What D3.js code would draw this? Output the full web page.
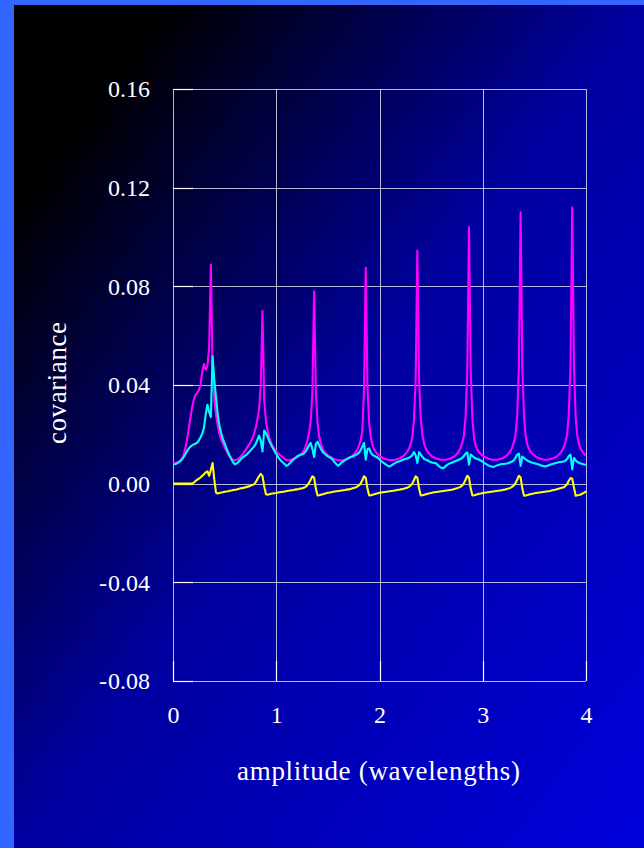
<!DOCTYPE html>
<html>
<head>
<meta charset="utf-8">
<script src="https://cdn.jsdelivr.net/npm/d3@7"></script>
<style>
  html, body { margin: 0; padding: 0; background: #3366ff; }
  svg { display: block; }
</style>
</head>
<body>
<svg id="chart" width="644" height="848"></svg>
<script>
// Sample grid: amplitude in wavelengths, 60 samples per wavelength
const amplitude = d3.range(0, 241).map(i => i / 60);

// Covariance series sampled on the amplitude grid
const covMagenta = [
  0.0083, 0.0084, 0.0086, 0.0088, 0.0092, 0.0098, 0.0112, 0.0138, 0.0172, 0.0215,
  0.0262, 0.0305, 0.0338, 0.0358, 0.0368, 0.0378, 0.0400, 0.0455, 0.0485, 0.0462,
  0.0478, 0.0550, 0.0888, 0.0460, 0.0340, 0.0280, 0.0235, 0.0200, 0.0178, 0.0163,
  0.0148, 0.0133, 0.0120, 0.0110, 0.0102, 0.0097, 0.0095, 0.0097, 0.0101, 0.0107,
  0.0115, 0.0124, 0.0134, 0.0145, 0.0156, 0.0168, 0.0182, 0.0200, 0.0225, 0.0258,
  0.0300, 0.0400, 0.0700, 0.0340, 0.0255, 0.0212, 0.0185, 0.0165, 0.0150, 0.0139,
  0.0130, 0.0123, 0.0117, 0.0111, 0.0105, 0.0100, 0.0096, 0.0095, 0.0096, 0.0098,
  0.0100, 0.0103, 0.0106, 0.0111, 0.0117, 0.0124, 0.0134, 0.0150, 0.0172, 0.0205,
  0.0250, 0.0370, 0.0780, 0.0380, 0.0245, 0.0190, 0.0160, 0.0142, 0.0130, 0.0121,
  0.0115, 0.0110, 0.0106, 0.0102, 0.0099, 0.0097, 0.0095, 0.0094, 0.0095, 0.0096,
  0.0098, 0.0100, 0.0103, 0.0107, 0.0112, 0.0118, 0.0126, 0.0137, 0.0152, 0.0175,
  0.0212, 0.0380, 0.0875, 0.0400, 0.0245, 0.0185, 0.0155, 0.0138, 0.0127, 0.0119,
  0.0113, 0.0108, 0.0104, 0.0101, 0.0099, 0.0097, 0.0096, 0.0096, 0.0096, 0.0097,
  0.0099, 0.0101, 0.0104, 0.0108, 0.0113, 0.0120, 0.0128, 0.0140, 0.0157, 0.0185,
  0.0255, 0.0420, 0.0945, 0.0420, 0.0260, 0.0193, 0.0160, 0.0141, 0.0129, 0.0121,
  0.0114, 0.0109, 0.0105, 0.0102, 0.0100, 0.0098, 0.0097, 0.0097, 0.0097, 0.0098,
  0.0100, 0.0102, 0.0105, 0.0109, 0.0114, 0.0121, 0.0130, 0.0143, 0.0162, 0.0192,
  0.0270, 0.0450, 0.1040, 0.0460, 0.0260, 0.0182, 0.0152, 0.0136, 0.0126, 0.0119,
  0.0113, 0.0108, 0.0105, 0.0102, 0.0100, 0.0098, 0.0097, 0.0097, 0.0097, 0.0098,
  0.0100, 0.0102, 0.0105, 0.0109, 0.0115, 0.0122, 0.0131, 0.0145, 0.0165, 0.0195,
  0.0275, 0.0470, 0.1100, 0.0470, 0.0270, 0.0188, 0.0156, 0.0139, 0.0128, 0.0120,
  0.0114, 0.0109, 0.0105, 0.0102, 0.0100, 0.0098, 0.0097, 0.0097, 0.0098, 0.0099,
  0.0101, 0.0103, 0.0106, 0.0110, 0.0116, 0.0123, 0.0133, 0.0147, 0.0167, 0.0198,
  0.0280, 0.0480, 0.1120, 0.0480, 0.0270, 0.0190, 0.0157, 0.0140, 0.0129, 0.0120,
  0.0113
];

const covCyan = [
  0.0078, 0.0079, 0.0081, 0.0085, 0.0090, 0.0097, 0.0106, 0.0117, 0.0130, 0.0141,
  0.0149, 0.0155, 0.0159, 0.0162, 0.0166, 0.0175, 0.0188, 0.0203, 0.0228, 0.0280,
  0.0320, 0.0290, 0.0270, 0.0516, 0.0420, 0.0350, 0.0280, 0.0235, 0.0205, 0.0180,
  0.0163, 0.0145, 0.0128, 0.0112, 0.0098, 0.0086, 0.0078, 0.0082, 0.0088, 0.0096,
  0.0103, 0.0109, 0.0114, 0.0119, 0.0126, 0.0134, 0.0142, 0.0150, 0.0160, 0.0178,
  0.0195, 0.0175, 0.0131, 0.0215, 0.0205, 0.0190, 0.0172, 0.0158, 0.0145, 0.0132,
  0.0120, 0.0109, 0.0099, 0.0091, 0.0085, 0.0079, 0.0072, 0.0076, 0.0084, 0.0091,
  0.0098, 0.0104, 0.0110, 0.0114, 0.0117, 0.0118, 0.0122, 0.0130, 0.0142, 0.0155,
  0.0165, 0.0140, 0.0108, 0.0160, 0.0170, 0.0155, 0.0140, 0.0128, 0.0122, 0.0116,
  0.0111, 0.0106, 0.0103, 0.0095, 0.0086, 0.0079, 0.0073, 0.0079, 0.0086, 0.0090,
  0.0095, 0.0100, 0.0104, 0.0107, 0.0109, 0.0112, 0.0116, 0.0120, 0.0125, 0.0135,
  0.0150, 0.0165, 0.0097, 0.0140, 0.0143, 0.0125, 0.0117, 0.0113, 0.0109, 0.0105,
  0.0098, 0.0092, 0.0086, 0.0081, 0.0076, 0.0072, 0.0070, 0.0074, 0.0079, 0.0083,
  0.0087, 0.0090, 0.0092, 0.0095, 0.0098, 0.0100, 0.0102, 0.0105, 0.0108, 0.0115,
  0.0128, 0.0115, 0.0084, 0.0128, 0.0118, 0.0108, 0.0100, 0.0097, 0.0094, 0.0090,
  0.0087, 0.0085, 0.0084, 0.0082, 0.0075, 0.0068, 0.0064, 0.0063, 0.0068, 0.0074,
  0.0079, 0.0083, 0.0085, 0.0088, 0.0091, 0.0094, 0.0097, 0.0100, 0.0104, 0.0112,
  0.0122, 0.0127, 0.0077, 0.0118, 0.0112, 0.0106, 0.0102, 0.0100, 0.0097, 0.0093,
  0.0088, 0.0083, 0.0079, 0.0075, 0.0072, 0.0070, 0.0068, 0.0070, 0.0073, 0.0076,
  0.0078, 0.0080, 0.0080, 0.0081, 0.0082, 0.0084, 0.0087, 0.0090, 0.0094, 0.0105,
  0.0118, 0.0122, 0.0072, 0.0110, 0.0104, 0.0098, 0.0093, 0.0090, 0.0087, 0.0085,
  0.0083, 0.0081, 0.0079, 0.0077, 0.0074, 0.0072, 0.0070, 0.0071, 0.0074, 0.0077,
  0.0079, 0.0081, 0.0083, 0.0085, 0.0087, 0.0088, 0.0089, 0.0090, 0.0093, 0.0100,
  0.0112, 0.0118, 0.0058, 0.0104, 0.0095, 0.0088, 0.0085, 0.0082, 0.0080, 0.0078,
  0.0077
];

const covYellow = [
  0.0000, 0.0000, 0.0000, 0.0000, 0.0000, 0.0000, 0.0000, 0.0000, 0.0000, 0.0000,
  0.0000, 0.0000, 0.0004, 0.0010, 0.0016, 0.0020, 0.0025, 0.0032, 0.0038, 0.0046,
  0.0050, 0.0032, 0.0056, 0.0084, 0.0016, -0.0036, -0.0040, -0.0038, -0.0036, -0.0035,
  -0.0033, -0.0032, -0.0031, -0.0029, -0.0028, -0.0026, -0.0025, -0.0024, -0.0022, -0.0020,
  -0.0018, -0.0017, -0.0015, -0.0013, -0.0011, -0.0009, -0.0006, -0.0003, 0.0005, 0.0018,
  0.0030, 0.0040, 0.0031, -0.0010, -0.0043, -0.0045, -0.0043, -0.0041, -0.0040, -0.0039,
  -0.0038, -0.0036, -0.0035, -0.0034, -0.0033, -0.0032, -0.0030, -0.0029, -0.0028, -0.0027,
  -0.0026, -0.0024, -0.0023, -0.0022, -0.0020, -0.0019, -0.0017, -0.0013, -0.0007, 0.0003,
  0.0016, 0.0030, 0.0025, -0.0020, -0.0048, -0.0047, -0.0045, -0.0043, -0.0041, -0.0039,
  -0.0037, -0.0036, -0.0035, -0.0033, -0.0032, -0.0031, -0.0030, -0.0029, -0.0028, -0.0027,
  -0.0026, -0.0024, -0.0023, -0.0022, -0.0020, -0.0018, -0.0016, -0.0012, -0.0007, 0.0000,
  0.0014, 0.0030, 0.0024, -0.0020, -0.0048, -0.0047, -0.0045, -0.0043, -0.0041, -0.0039,
  -0.0037, -0.0036, -0.0035, -0.0034, -0.0033, -0.0032, -0.0031, -0.0030, -0.0029, -0.0028,
  -0.0026, -0.0025, -0.0024, -0.0022, -0.0021, -0.0019, -0.0017, -0.0013, -0.0008, 0.0000,
  0.0014, 0.0030, 0.0024, -0.0020, -0.0048, -0.0047, -0.0045, -0.0043, -0.0041, -0.0039,
  -0.0038, -0.0036, -0.0035, -0.0034, -0.0033, -0.0032, -0.0031, -0.0030, -0.0029, -0.0028,
  -0.0027, -0.0026, -0.0025, -0.0023, -0.0021, -0.0019, -0.0016, -0.0013, -0.0008, 0.0001,
  0.0016, 0.0032, 0.0025, -0.0020, -0.0048, -0.0047, -0.0045, -0.0043, -0.0041, -0.0040,
  -0.0038, -0.0037, -0.0036, -0.0035, -0.0034, -0.0033, -0.0032, -0.0031, -0.0030, -0.0029,
  -0.0028, -0.0027, -0.0025, -0.0024, -0.0022, -0.0020, -0.0017, -0.0013, -0.0008, 0.0001,
  0.0016, 0.0032, 0.0025, -0.0020, -0.0049, -0.0048, -0.0046, -0.0044, -0.0042, -0.0041,
  -0.0039, -0.0038, -0.0037, -0.0036, -0.0035, -0.0034, -0.0033, -0.0032, -0.0031, -0.0030,
  -0.0028, -0.0026, -0.0025, -0.0023, -0.0021, -0.0019, -0.0017, -0.0015, -0.0010, -0.0002,
  0.0012, 0.0023, 0.0020, -0.0015, -0.0049, -0.0047, -0.0046, -0.0044, -0.0040, -0.0036,
  -0.0031
];

const seriesColors = ["#ff00ff", "#00ffff", "#ffff00"];
const xTicks = [0, 1, 2, 3, 4];
const yTicks = [-0.08, -0.04, 0.00, 0.04, 0.08, 0.12, 0.16];
const xTitle = "amplitude (wavelengths)";
const yTitle = "covariance";

const svg = d3.select("#chart");
const W = 644, H = 848;
const plot = { left: 173, right: 586, top: 89, bottom: 681 };

// Backdrop: dark diagonal gradient inside a bright blue frame
const defs = svg.append("defs");
const grad = defs.append("linearGradient")
  .attr("id", "bg").attr("x1", 0).attr("y1", 0).attr("x2", 1).attr("y2", 1);
[[0, "#000000"], [0.12, "#000000"], [0.5, "#0000a0"], [1, "#0000dc"]].forEach(([o, c]) =>
  grad.append("stop").attr("offset", o).attr("stop-color", c));

svg.append("rect").attr("width", W).attr("height", H).attr("fill", "#3366ff");
svg.append("rect").attr("x", 14).attr("y", 5).attr("width", W - 14).attr("height", H - 5)
  .attr("fill", "url(#bg)");

const x = d3.scaleLinear().domain([0, 4]).range([plot.left, plot.right]);
const y = d3.scaleLinear().domain([-0.08, 0.16]).range([plot.bottom, plot.top]);

const gridColor = "rgba(255,255,255,0.72)";
const font = "'Liberation Serif', 'Times New Roman', serif";

// Grid lines
const grid = svg.append("g");
grid.selectAll("line.h").data(yTicks).join("line")
  .attr("x1", plot.left).attr("x2", plot.right)
  .attr("y1", d => Math.round(y(d)) + 0.5).attr("y2", d => Math.round(y(d)) + 0.5)
  .attr("stroke", gridColor).attr("stroke-width", 1);
grid.selectAll("line.v").data(xTicks).join("line")
  .attr("y1", plot.top).attr("y2", plot.bottom)
  .attr("x1", d => Math.round(x(d)) + 0.5).attr("x2", d => Math.round(x(d)) + 0.5)
  .attr("stroke", gridColor).attr("stroke-width", 1);

// Short bright tick marks on the left and bottom edges
const tickLen = 20;
grid.selectAll("line.ty").data(yTicks).join("line")
  .attr("x1", plot.left).attr("x2", plot.left + tickLen)
  .attr("y1", d => Math.round(y(d)) + 0.5).attr("y2", d => Math.round(y(d)) + 0.5)
  .attr("stroke", "#ffffff").attr("stroke-width", 1.2);
grid.selectAll("line.tx").data(xTicks).join("line")
  .attr("y1", plot.bottom).attr("y2", plot.bottom - tickLen)
  .attr("x1", d => Math.round(x(d)) + 0.5).attr("x2", d => Math.round(x(d)) + 0.5)
  .attr("stroke", "#ffffff").attr("stroke-width", 1.2);

// Axis labels via d3 axes
const yAxis = svg.append("g").attr("transform", `translate(${plot.left},0)`)
  .call(d3.axisLeft(y).tickValues(yTicks).tickFormat(d3.format(".2f")).tickSize(0).tickPadding(23));
const xAxis = svg.append("g").attr("transform", `translate(0,${plot.bottom})`)
  .call(d3.axisBottom(x).tickValues(xTicks).tickFormat(d3.format("d")).tickSize(0).tickPadding(25));
[yAxis, xAxis].forEach(g => {
  g.select(".domain").remove();
  g.selectAll("text").attr("fill", "#ffffff").style("font-family", font).style("font-size", "24px");
});
// Negative labels: a slightly wider minus sign
yAxis.selectAll(".tick text").each(function (d) {
  if (d < 0) {
    const t = d3.select(this);
    const s = d3.format(".2f")(Math.abs(d));
    t.text(null);
    t.append("tspan").text("-");
    t.append("tspan").attr("dx", 1).text(s);
  }
});

// Series lines
const line = d3.line().x((d, i) => x(amplitude[i])).y(d => y(d));
[covMagenta, covCyan, covYellow].forEach((vals, k) => {
  svg.append("path").datum(vals)
    .attr("d", line)
    .attr("fill", "none")
    .attr("stroke", seriesColors[k])
    .attr("stroke-width", 2.1)
    .attr("stroke-linejoin", "round");
});

// Axis titles
svg.append("text")
  .attr("x", 378.5).attr("y", 780)
  .attr("text-anchor", "middle")
  .attr("fill", "#ffffff")
  .attr("textLength", 283).attr("lengthAdjust", "spacing")
  .style("font-family", font).style("font-size", "27px")
  .text(xTitle);
svg.append("text")
  .attr("transform", "translate(66,383) rotate(-90)")
  .attr("text-anchor", "middle")
  .attr("fill", "#ffffff")
  .attr("textLength", 122).attr("lengthAdjust", "spacing")
  .style("font-family", font).style("font-size", "27px")
  .text(yTitle);
</script>
</body>
</html>
